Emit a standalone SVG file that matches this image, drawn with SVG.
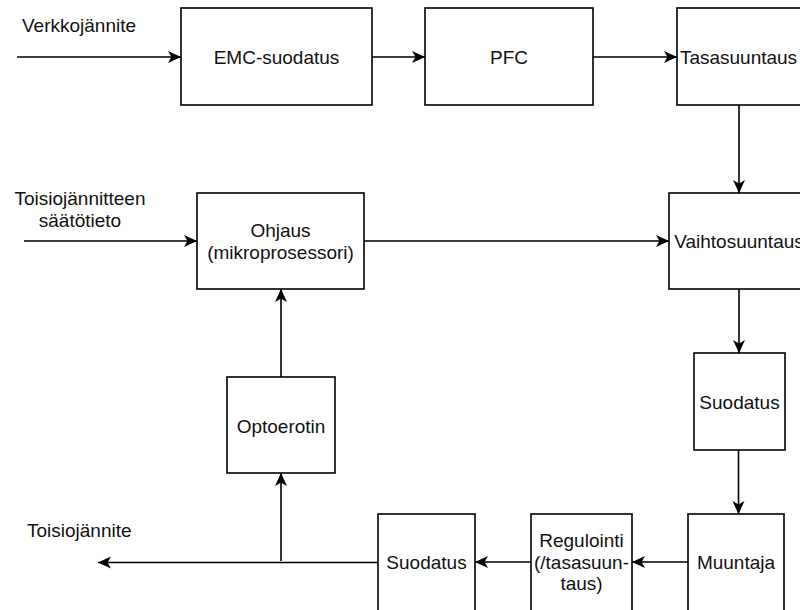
<svg xmlns="http://www.w3.org/2000/svg" width="800" height="610" viewBox="0 0 800 610">
<style>
.box{fill:#fff;stroke:#000;stroke-width:1.6}
.lbl{font-family:"Liberation Sans",Arial,sans-serif;font-size:19px;fill:#111}
.c{text-anchor:middle}
.edge{fill:none;stroke:#000;stroke-width:1.6}
.arr{marker-end:url(#ah)}
</style>
<defs>
<marker id="ah" markerUnits="userSpaceOnUse" markerWidth="14" markerHeight="13" refX="13" refY="6" orient="auto">
<path d="M0,0 L13,6 L0,12 L3.5,6 Z" fill="#000"/>
</marker>
</defs>
<rect width="800" height="610" fill="#fff"/>
<g id="connectors">
<line class="edge arr" x1="17" y1="57" x2="181" y2="57"/>
<line class="edge arr" x1="372" y1="57" x2="425" y2="57"/>
<line class="edge arr" x1="593" y1="57" x2="677" y2="57"/>
<line class="edge arr" x1="739" y1="105" x2="739" y2="193"/>
<line class="edge arr" x1="24" y1="241" x2="197" y2="241"/>
<line class="edge arr" x1="364" y1="241" x2="669" y2="241"/>
<line class="edge arr" x1="739" y1="289" x2="739" y2="353"/>
<line class="edge arr" x1="738.5" y1="450" x2="738.5" y2="514"/>
<line class="edge arr" x1="688" y1="562" x2="632" y2="562"/>
<line class="edge arr" x1="531" y1="562" x2="475" y2="562"/>
<line class="edge arr" x1="378" y1="562.5" x2="98" y2="562.5"/>
<line class="edge arr" x1="281" y1="561" x2="281" y2="473"/>
<line class="edge arr" x1="281" y1="377" x2="281" y2="289"/>
</g>
<g id="label-verkkojannite"><text class="lbl" x="22" y="32">Verkkojännite</text></g>
<g id="label-saatotieto"><text class="lbl c" x="80" y="205">Toisiojännitteen</text><text class="lbl c" x="80" y="227">säätötieto</text></g>
<g id="label-toisiojannite"><text class="lbl" x="27" y="537">Toisiojännite</text></g>
<g id="emc"><rect class="box" x="181" y="8" width="191" height="97"/><text class="lbl c" x="276.5" y="63.8">EMC-suodatus</text></g>
<g id="pfc"><rect class="box" x="425" y="8" width="168" height="97"/><text class="lbl c" x="509" y="63.8">PFC</text></g>
<g id="tasasuuntaus"><rect class="box" x="677" y="8" width="124" height="97"/><text class="lbl c" x="738.5" y="63.8">Tasasuuntaus</text></g>
<g id="ohjaus"><rect class="box" x="197" y="193" width="167" height="96"/><text class="lbl c" x="280.5" y="237">Ohjaus</text><text class="lbl c" x="280.5" y="259">(mikroprosessori)</text></g>
<g id="vaihtosuuntaus"><rect class="box" x="669" y="193" width="140" height="96"/><text class="lbl c" x="739" y="248">Vaihtosuuntaus</text></g>
<g id="suodatus1"><rect class="box" x="694" y="353" width="91" height="97"/><text class="lbl c" x="739.5" y="408.5">Suodatus</text></g>
<g id="muuntaja"><rect class="box" x="688" y="514" width="96" height="97"/><text class="lbl c" x="736" y="569">Muuntaja</text></g>
<g id="regulointi"><rect class="box" x="531" y="514" width="101" height="97"/><text class="lbl c" x="581.5" y="547">Regulointi</text><text class="lbl c" x="581.5" y="568.5">(/tasasuun-</text><text class="lbl c" x="581.5" y="590">taus)</text></g>
<g id="suodatus2"><rect class="box" x="378" y="514" width="97" height="97"/><text class="lbl c" x="426.5" y="569">Suodatus</text></g>
<g id="optoerotin"><rect class="box" x="227" y="377" width="108" height="96"/><text class="lbl c" x="281" y="432.5">Optoerotin</text></g>
</svg>
